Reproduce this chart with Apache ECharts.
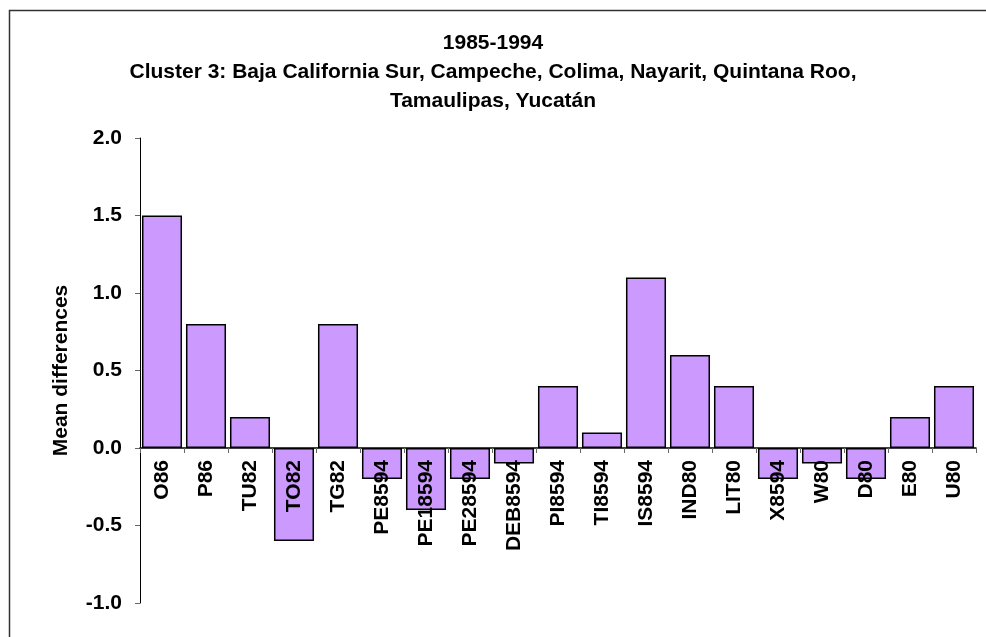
<!DOCTYPE html>
<html>
<head>
<meta charset="utf-8">
<script src="https://cdn.jsdelivr.net/npm/echarts@6/dist/echarts.min.js"></script>
<style>
  html, body { margin: 0; padding: 0; background: #fff; }
  #chart { width: 986px; height: 637px; }
</style>
</head>
<body>
<div id="chart"></div>
<script>
// categories and mean differences
const categories = ['O86', 'P86', 'TU82', 'TO82', 'TG82', 'PE8594', 'PE18594', 'PE28594', 'DEB8594',
    'PI8594', 'TI8594', 'IS8594', 'IND80', 'LIT80', 'X8594', 'W80', 'D80', 'E80', 'U80'];
const meanDiff = [1.5, 0.8, 0.2, -0.6, 0.8, -0.2, -0.4, -0.2, -0.1,
    0.4, 0.1, 1.1, 0.6, 0.4, -0.2, -0.1, -0.2, 0.2, 0.4];
const titleLines = ['1985-1994',
    'Cluster 3: Baja California Sur, Campeche, Colima, Nayarit, Quintana Roo,',
    'Tamaulipas, Yucatán'];
const yMin = -1, yMax = 2, yStep = 0.5;

const fontFam = 'Liberation Sans, Arial, sans-serif';
const grid = { left: 140, right: 10, top: 138, bottom: 34 };
const plotH = 637 - grid.top - grid.bottom;
// lift the category axis (line, ticks, labels) up to the zero line
const zeroOffset = -plotH * (0 - yMin) / (yMax - yMin);

const chart = echarts.init(document.getElementById('chart'));

chart.setOption({
    animation: false,
    backgroundColor: '#fff',
    title: {
        text: titleLines.join('\n'),
        left: 'center',
        top: 24,
        textStyle: {
            fontFamily: fontFam,
            fontSize: 21,
            fontWeight: 'bold',
            color: '#000',
            lineHeight: 29
        }
    },
    graphic: [{
        type: 'rect',
        shape: { x: 9.5, y: 10.5, width: 1000, height: 700 },
        style: { fill: null, stroke: '#333', lineWidth: 1.5 },
        silent: true
    }],
    grid: grid,
    xAxis: {
        type: 'category',
        data: categories,
        position: 'bottom',
        offset: zeroOffset,
        z: 5,
        axisLine: { onZero: false, lineStyle: { color: '#000', width: 1.5 } },
        axisTick: { show: true, length: 5, lineStyle: { color: '#666' } },
        axisLabel: {
            rotate: 90,
            margin: 12,
            interval: 0,
            fontFamily: fontFam,
            fontSize: 21,
            fontWeight: 'bold',
            color: '#000'
        }
    },
    yAxis: {
        type: 'value',
        min: yMin,
        max: yMax,
        interval: yStep,
        name: 'Mean differences',
        nameLocation: 'middle',
        nameGap: 68,
        nameTextStyle: {
            fontFamily: fontFam,
            fontSize: 21,
            fontWeight: 'bold',
            color: '#000'
        },
        splitLine: { show: false },
        axisLine: { show: true, lineStyle: { color: '#000', width: 1 } },
        axisTick: { show: true, inside: false, length: 5, lineStyle: { color: '#666' } },
        axisLabel: {
            margin: 18,
            formatter: v => v.toFixed(1),
            fontFamily: fontFam,
            fontSize: 21,
            fontWeight: 'bold',
            color: '#000'
        }
    },
    series: [{
        type: 'bar',
        data: meanDiff,
        barCategoryGap: '9%',
        itemStyle: {
            color: '#CC99FF',
            borderColor: '#000',
            borderWidth: 1.5
        }
    }]
});
</script>
</body>
</html>
